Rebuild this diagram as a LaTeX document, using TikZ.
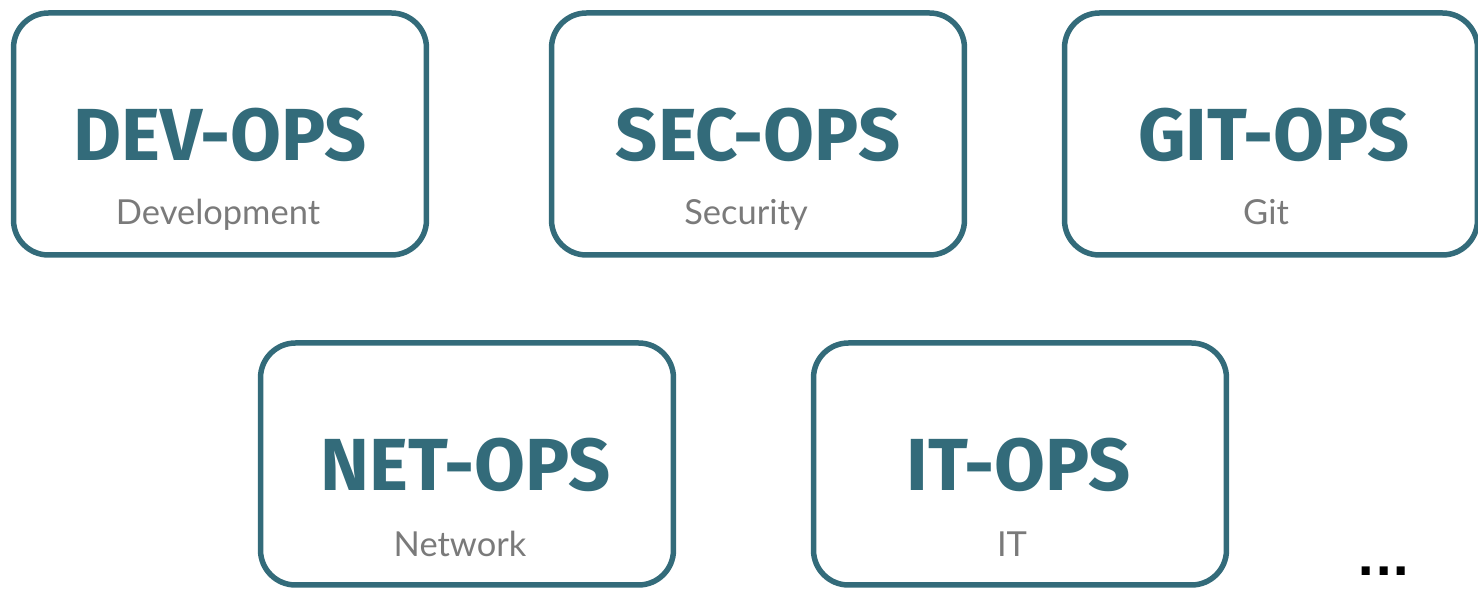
\documentclass[tikz,border=0pt]{standalone}
\usepackage{fontspec}
\setmainfont{Lato}
\newfontfamily\titlefont{Fira Sans}
\newfontfamily\dotfont{DejaVu Sans}
\usetikzlibrary{positioning}
\definecolor{opsteal}{HTML}{336B7A}
\definecolor{subgray}{HTML}{7A7A7A}

\begin{document}
\begin{tikzpicture}
    [
    x=0.1mm, y=-0.1mm,
    opsbox/.style={rectangle,draw=opsteal,line width=0.55mm,rounded corners=3.5mm,inner sep=0pt,minimum width=41.3mm,minimum height=24.2mm},
    opstitle/.style={text=opsteal,inner sep=0pt,font=\titlefont\bfseries\fontsize{21}{24}\selectfont},
    opssub/.style={text=subgray,anchor=base,inner sep=0pt,font=\fontsize{9.8}{12}\selectfont}
    ]
    \useasboundingbox (0,0) rectangle (1478,589);
    % top row
    \node (dev) at (220,134) [opsbox] {};
    \node (sec) at (758,134) [opsbox] {};
    \node (git) at (1271,134) [opsbox] {};
    % bottom row
    \node (net) at (467,464) [opsbox] {};
    \node (it) at (1020,464) [opsbox] {};
    \node (devtitle) at (220,135) [opstitle] {DEV-OPS};
    \node (sectitle) at (758,135) [opstitle] {SEC-OPS};
    \node (gittitle) at (1274,135) [opstitle] {GIT-OPS};
    \node (nettitle) at (466,465) [opstitle] {NET-OPS};
    \node (ittitle) at (1019,465) [opstitle] {IT-OPS};
    \node (devsub) at (218,225) [opssub] {Development};
    \node (secsub) at (746,225) [opssub] {Security};
    \node (gitsub) at (1266,225) [opssub] {Git};
    \node (netsub) at (460,557) [opssub] {Network};
    \node (itsub) at (1012,557) [opssub] {IT};
    \node (more) at (1384,576) [anchor=base,inner sep=0pt,font=\dotfont\bfseries\fontsize{13}{15}\selectfont] {...};
\end{tikzpicture}
\end{document}
